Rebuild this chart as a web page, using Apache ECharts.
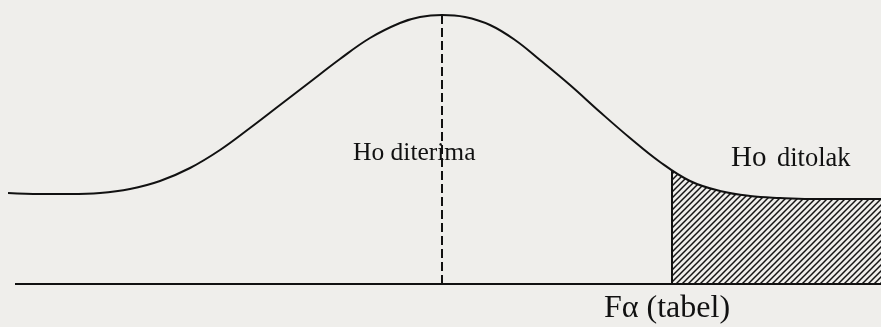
<!DOCTYPE html>
<html>
<head>
<meta charset="utf-8">
<script src="https://cdn.jsdelivr.net/npm/echarts@6/dist/echarts.min.js"></script>
<style>
html,body{margin:0;padding:0;background:#efeeeb;}
#c{width:881px;height:327px;}
</style>
</head>
<body>
<div id="c"></div>
<script>
// Curve (x in horizontal units, y = density height above baseline)
const curveX = [8, 40, 70, 100, 130, 160, 190, 220, 250, 280, 310, 340, 370, 400, 420, 442, 465, 490, 515, 540, 570, 600, 630, 660, 690, 720, 750, 780, 810, 881];
const curveY = [91, 90, 90, 91, 95, 103, 116, 134, 156, 179, 202, 225, 246, 261, 267, 269, 267, 259, 244, 224, 199, 172, 146, 122, 103, 93, 88, 86, 85, 85];
const baselineX = [15, 881];
const criticalX = 672;      // F alpha (tabel)
const criticalY = 113;
const meanX = 442;
const peakY = 269;
const labelAccept = 'Ho diterima';
const labelRejectHo = 'Ho';
const labelRejectTxt = 'ditolak';
const labelCritical = 'F\u03b1 (tabel)';

const chart = echarts.init(document.getElementById('c'));

const curve = curveX.map((x, i) => [x, curveY[i]]);
const tail = [[criticalX, criticalY]].concat(curve.filter(p => p[0] > criticalX));

const cv = document.createElement('canvas');
cv.width = 6; cv.height = 6;
const g = cv.getContext('2d');
g.strokeStyle = '#151515'; g.lineWidth = 1.5;
g.beginPath();
g.moveTo(0, 6); g.lineTo(6, 0);
g.moveTo(-1, 1); g.lineTo(1, -1);
g.moveTo(5, 7); g.lineTo(7, 5);
g.stroke();

const serif = '"Liberation Serif", "DejaVu Serif", serif';

chart.setOption({
  backgroundColor: '#efeeeb',
  animation: false,
  grid: {left: 0, right: 0, top: 0, bottom: 0},
  xAxis: {type: 'value', min: 0, max: 881, show: false},
  yAxis: {type: 'value', min: -43, max: 284, show: false},
  series: [
    {
      type: 'line', data: tail, smooth: 0.4, symbol: 'none',
      lineStyle: {width: 0, opacity: 0},
      areaStyle: {color: {image: cv, repeat: 'repeat'}, opacity: 1},
      z: 1
    },
    {
      type: 'line', data: curve, smooth: 0.4, symbol: 'none',
      lineStyle: {color: '#111', width: 2}, z: 3
    },
    {
      type: 'line', data: baselineX.map(x => [x, 0]), symbol: 'none',
      lineStyle: {color: '#111', width: 2}, z: 3
    },
    {
      type: 'line', data: [[criticalX, 0], [criticalX, criticalY]], symbol: 'none',
      lineStyle: {color: '#111', width: 2}, z: 3
    },
    {
      type: 'line', data: [[meanX, 0], [meanX, peakY]], symbol: 'none',
      lineStyle: {color: '#111', width: 2, type: [9, 4]}, z: 2
    }
  ],
  graphic: [
    {type: 'text', left: 353, top: 140, z: 10,
      style: {text: labelAccept, font: '25.5px ' + serif, fill: '#111'}},
    {type: 'text', left: 731, top: 144, z: 10,
      style: {text: labelRejectHo, font: '29px ' + serif, fill: '#111'}},
    {type: 'text', left: 777, top: 146, z: 10,
      style: {text: labelRejectTxt, font: '26.5px ' + serif, fill: '#111'}},
    {type: 'text', left: 604, top: 293, z: 10,
      style: {text: labelCritical, font: '32px ' + serif, fill: '#111'}}
  ]
});
</script>
</body>
</html>
